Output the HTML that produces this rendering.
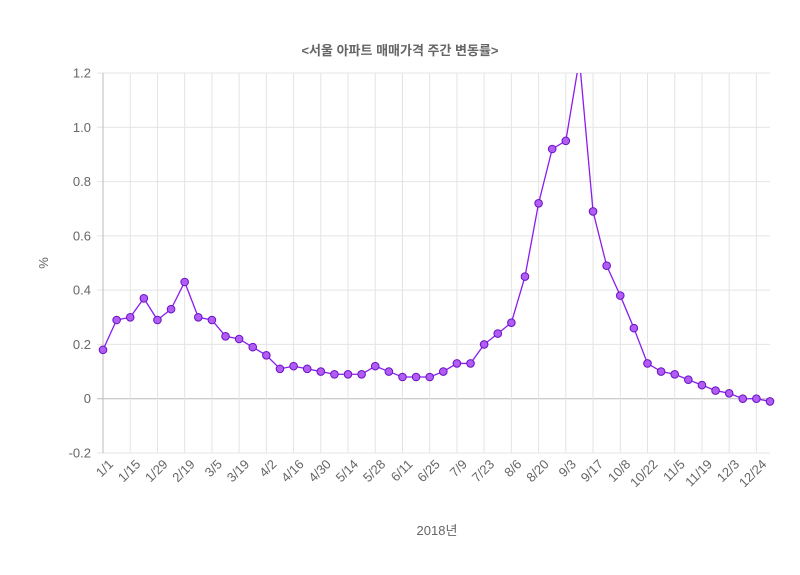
<!DOCTYPE html>
<html><head><meta charset="utf-8"><style>
body{margin:0;background:#fff;}
svg{display:block;font-family:"Liberation Sans","Noto Sans CJK KR",sans-serif;}
</style></head><body>
<svg id="c" width="800" height="575" xmlns="http://www.w3.org/2000/svg"></svg>
<script>
const v=[0.18,0.29,0.30,0.37,0.29,0.33,0.43,0.30,0.29,0.23,0.22,0.19,0.16,0.11,0.12,0.11,0.10,0.09,0.09,0.09,0.12,0.10,0.08,0.08,0.08,0.10,0.13,0.13,0.20,0.24,0.28,0.45,0.72,0.92,0.95,1.25,0.69,0.49,0.38,0.26,0.13,0.10,0.09,0.07,0.05,0.03,0.02,0.00,0.00,-0.01];
const L=["1/1","1/15","1/29","2/19","3/5","3/19","4/2","4/16","4/30","5/14","5/28","6/11","6/25","7/9","7/23","8/6","8/20","9/3","9/17","10/8","10/22","11/5","11/19","12/3","12/24"];
const x0=103,x1=770,yt=73,yb=453;
const X=i=>x0+i*(x1-x0)/49, Y=val=>yb-(val+0.2)/1.4*(yb-yt);
let s='<defs><clipPath id="cp"><rect x="95" y="'+yt+'" width="690" height="'+(yb-yt)+'"/></clipPath></defs>';
s+='<text x="400" y="55" text-anchor="middle" font-size="13" font-weight="bold" fill="#666">&lt;서울 아파트 매매가격 주간 변동률&gt;</text>';
for(let k=0;k<=7;k++){const val=-0.2+k*0.2,y=Y(val);
 s+=`<line x1="${x0-6}" x2="${x1}" y1="${y}" y2="${y}" stroke="${Math.abs(val)<1e-9?'#bbb':'#e4e4e4'}"/>`;
 s+=`<text x="91" y="${y+4.5}" text-anchor="end" font-size="13" fill="#666">${Math.abs(val)<1e-9?'0':val.toFixed(1)}</text>`;}
for(let j=0;j<25;j++){const x=X(j*2);
 s+=`<line x1="${x}" x2="${x}" y1="${yt}" y2="${yb}" stroke="${j==0?'#bbb':'#e4e4e4'}"/>`;
 s+=`<text transform="translate(${x+11},${yb+12}) rotate(-45)" text-anchor="end" font-size="13" fill="#666">${L[j]}</text>`;}
s+='<text transform="translate(48,263) rotate(-90)" text-anchor="middle" font-size="13" fill="#666">%</text>';
s+='<text x="437" y="535" text-anchor="middle" font-size="13" fill="#666">2018년</text>';
s+='<g clip-path="url(#cp)"><polyline fill="none" stroke="#8a1cf0" stroke-width="1.3" points="'+v.map((a,i)=>X(i)+','+Y(a)).join(' ')+'"/></g>';
v.forEach((a,i)=>{if(a<1.2)s+=`<circle cx="${X(i)}" cy="${Y(a)}" r="3.8" fill="#b05cf5" stroke="#6a12c0" stroke-width="1"/>`;});
document.getElementById('c').innerHTML=s;
</script>
</body></html>
